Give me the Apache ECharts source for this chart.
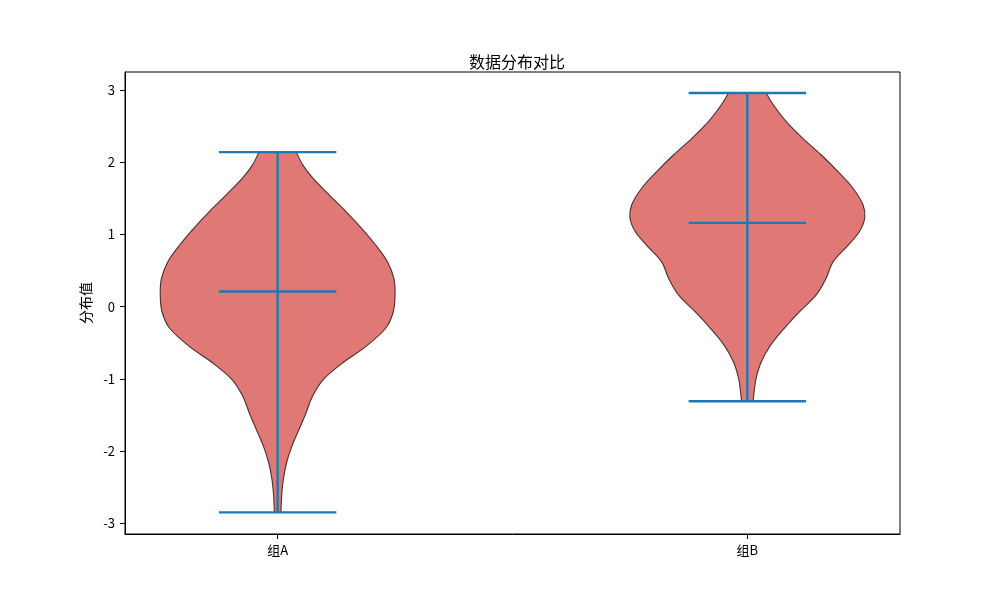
<!DOCTYPE html>
<html>
<head>
<meta charset="utf-8">
<script src="https://cdn.jsdelivr.net/npm/echarts@6/dist/echarts.min.js"></script>
<style>
  html, body { margin: 0; padding: 0; background: #fff; }
  #chart { width: 1000px; height: 600px; }
</style>
</head>
<body>
<div id="chart"></div>
<script>
// 分组与位置
const groups = ['组A', '组B'];
const positions = [1, 2];

// 核密度轮廓（从上到下），密度已按各自最大值归一化
const yA = [2.14, 1.96, 1.78, 1.545, 1.32, 1.085, 0.853, 0.622, 0.39, 0.16, -0.07, -0.30,
  -0.555, -0.785, -1.017, -1.25, -1.48, -1.71, -1.94, -2.17, -2.40, -2.63, -2.85];
const densA = [0.16, 0.215, 0.30, 0.44, 0.58, 0.715, 0.835, 0.935, 0.99, 1.00, 0.985, 0.92,
  0.75, 0.55, 0.385, 0.295, 0.24, 0.18, 0.12, 0.075, 0.048, 0.034, 0.028];

const yB = [2.96, 2.80, 2.566, 2.335, 2.10, 1.874, 1.64, 1.41, 1.227, 1.04, 0.853, 0.62,
  0.39, 0.16, -0.07, -0.30, -0.53, -0.76, -0.99, -1.18, -1.31];
const densB = [0.16, 0.22, 0.33, 0.47, 0.63, 0.77, 0.90, 0.985, 1.00, 0.955, 0.86, 0.73,
  0.67, 0.585, 0.445, 0.315, 0.20, 0.12, 0.075, 0.058, 0.05];

// 统计线
const maxVals = [2.14, 2.96];
const minVals = [-2.85, -1.31];
const meanVals = [0.21, 1.16];

// 坐标刻度
const yTicks = [-3, -2, -1, 0, 1, 2, 3];

const profileY = [yA, yB];
const profileD = [densA, densB];
const violinWidth = 0.5;

const chart = echarts.init(document.getElementById('chart'));

// Catmull-Rom 转贝塞尔，得到平滑的轮廓
function curveTo(pts) {
  let d = '';
  for (let i = 0; i < pts.length - 1; i++) {
    const p0 = pts[i - 1] || pts[i];
    const p1 = pts[i];
    const p2 = pts[i + 1];
    const p3 = pts[i + 2] || pts[i + 1];
    const c1x = p1[0] + (p2[0] - p0[0]) / 6, c1y = p1[1] + (p2[1] - p0[1]) / 6;
    const c2x = p2[0] - (p3[0] - p1[0]) / 6, c2y = p2[1] - (p3[1] - p1[1]) / 6;
    d += ' C' + c1x + ',' + c1y + ' ' + c2x + ',' + c2y + ' ' + p2[0] + ',' + p2[1];
  }
  return d;
}

function renderViolin(params, api) {
  const i = params.dataIndex;
  const pos = positions[i];
  const ys = profileY[i];
  const ds = profileD[i];
  const half = violinWidth / 2;
  const left = ys.map((y, k) => api.coord([pos - ds[k] * half, y]));
  const right = ys.map((y, k) => api.coord([pos + ds[k] * half, y])).reverse();
  const pathData = 'M' + left[0][0] + ',' + left[0][1] + curveTo(left) +
    ' L' + right[0][0] + ',' + right[0][1] + curveTo(right) + ' Z';

  const lineStyle = { stroke: '#1f77b4', lineWidth: 2.4 };
  const hLine = (v) => {
    const a = api.coord([pos - half / 2, v]);
    const b = api.coord([pos + half / 2, v]);
    return { type: 'line', shape: { x1: a[0], y1: a[1], x2: b[0], y2: b[1] }, style: lineStyle };
  };
  const top = api.coord([pos, maxVals[i]]);
  const bottom = api.coord([pos, minVals[i]]);

  return {
    type: 'group',
    children: [
      {
        type: 'path',
        shape: { pathData: pathData },
        style: { fill: '#e07975', stroke: 'rgba(45,25,25,0.85)', lineWidth: 1.1 }
      },
      { type: 'line', shape: { x1: top[0], y1: top[1], x2: bottom[0], y2: bottom[1] }, style: lineStyle },
      hLine(maxVals[i]),
      hLine(minVals[i]),
      hLine(meanVals[i])
    ]
  };
}

const font = "'Noto Sans CJK SC', 'Noto Sans', sans-serif";

chart.setOption({
  animation: false,
  textStyle: { fontFamily: font },
  title: {
    text: '数据分布对比',
    left: 512,
    top: 49,
    textAlign: 'center',
    textStyle: { fontSize: 16, fontWeight: 'normal', color: '#000', fontFamily: font }
  },
  grid: {
    left: 125, right: 100, top: 72, bottom: 66,
    show: true, borderColor: '#000', borderWidth: 1, backgroundColor: 'transparent'
  },
  xAxis: {
    type: 'value',
    min: 0.675,
    max: 2.325,
    splitLine: { show: false },
    axisLine: { show: true, onZero: false, lineStyle: { color: '#000', width: 1 } },
    axisTick: { show: true, length: 5, customValues: positions, lineStyle: { color: '#000' } },
    axisLabel: {
      customValues: positions,
      margin: 10,
      fontSize: 13,
      color: '#000',
      fontFamily: font,
      formatter: (v) => groups[positions.indexOf(v)] || ''
    }
  },
  yAxis: {
    type: 'value',
    min: -3.15,
    max: 3.25,
    name: '分布值',
    nameLocation: 'middle',
    nameGap: 28,
    nameRotate: 90,
    nameTextStyle: { fontSize: 14, color: '#000', fontFamily: font },
    splitLine: { show: false },
    axisLine: { show: true, onZero: false, lineStyle: { color: '#000', width: 1 } },
    axisTick: { show: true, length: 5, customValues: yTicks, lineStyle: { color: '#000' } },
    axisLabel: {
      customValues: yTicks,
      margin: 10,
      fontSize: 13,
      color: '#000',
      fontFamily: font
    }
  },
  series: [{
    type: 'custom',
    renderItem: renderViolin,
    data: positions.map((p, i) => [p, meanVals[i]]),
    encode: { x: 0, y: 1 },
    z: 2
  }]
});
</script>
</body>
</html>
